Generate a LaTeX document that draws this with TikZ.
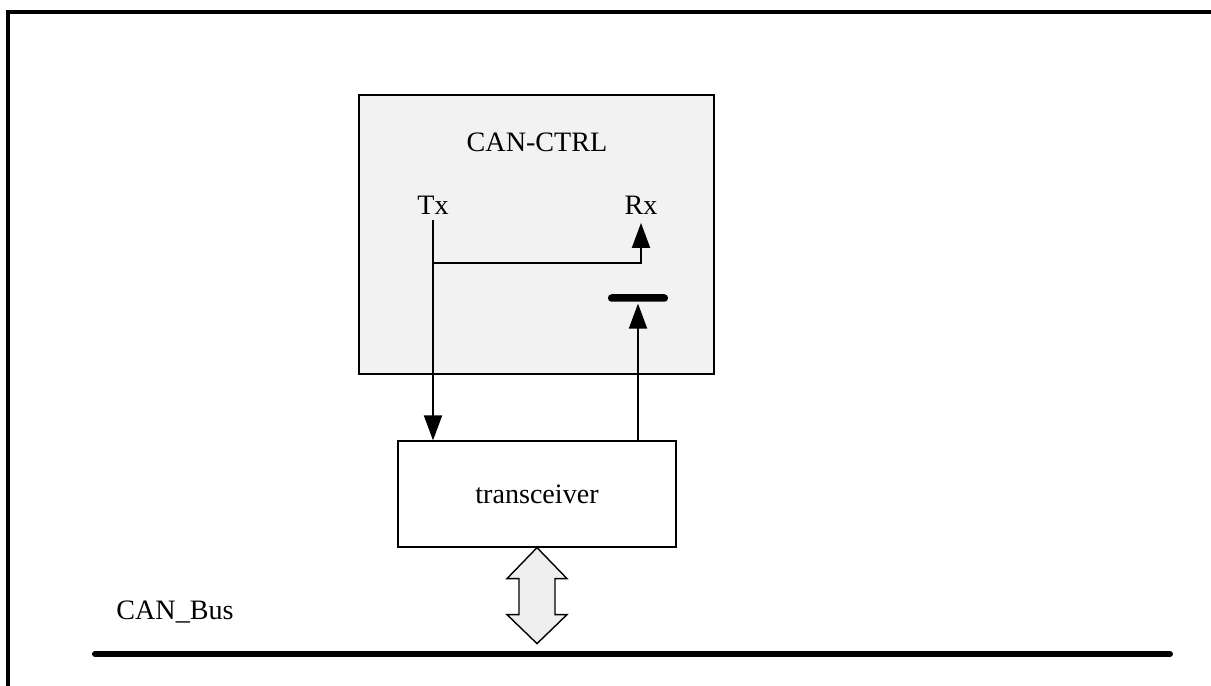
\documentclass[tikz,border=0pt]{standalone}
\usepackage{fontspec}
\setmainfont{Liberation Serif}
\usetikzlibrary{arrows.meta}
\definecolor{CtrlGrey}{RGB}{242,242,242}
\definecolor{ArrowGrey}{RGB}{238,238,238}

\begin{document}
\begin{tikzpicture}[
    font=\fontsize{16}{19}\selectfont,
    block/.style={draw, line width=0.7pt, inner sep=0pt},
    signal/.style={line width=1.1pt, -{Triangle[length=0.5cm, width=0.36cm]}},
    biarrow/.style={draw, line width=0.8pt, fill=ArrowGrey, line join=miter}
  ]
                \useasboundingbox (0,0) rectangle (24.22,-13.72);
                % Frame
                \draw[line width=1.9pt] (0.16,-13.72) -- (0.16,-0.24) -- (24.22,-0.24);

                % Controller
                \node[block, fill=CtrlGrey, minimum width=7.1cm, minimum height=5.58cm] (ctrl) at (10.73,-4.69) {};
                \node (title) at (10.74,-2.84) {CAN-CTRL};
                \node (tx) at (8.66,-4.1) {Tx};
                \node (rx) at (12.82,-4.1) {Rx};
                \node[fill=black, rounded corners=0.07cm, minimum width=1.2cm, minimum height=0.15cm, inner sep=0pt] (latch) at (12.76,-5.96) {};

                % Transceiver
                \node[block, fill=white, minimum width=5.56cm, minimum height=2.12cm] (trx) at (10.74,-9.88) {transceiver};

                % Signals
                \coordinate (split) at (8.66,-5.26);
                \draw[signal] (tx.south) -- (tx.south |- trx.north);
                \draw[signal] (split) -| ([yshift=-0.05cm]rx.south);
                \draw[signal, shorten >=0.03cm] (latch.south |- trx.north) -- (latch.south);

                % Bus
                \coordinate (busL) at (1.9,-13.08);
                \coordinate (busR) at (23.4,-13.08);
                \node (buslabel) at (3.5,-12.24) {CAN\_Bus};
                \draw[line width=3.4pt, line cap=round] (busL) -- (busR);

                % Bus access arrow
                \path[biarrow, shift={(trx.south)}] (0,0) -- (0.6,-0.62) -- (0.36,-0.62) -- (0.36,-1.34) -- (0.6,-1.34)
                    -- (0,-1.92) -- (-0.6,-1.34) -- (-0.36,-1.34) -- (-0.36,-0.62) -- (-0.6,-0.62) -- cycle;
\end{tikzpicture}
\end{document}
